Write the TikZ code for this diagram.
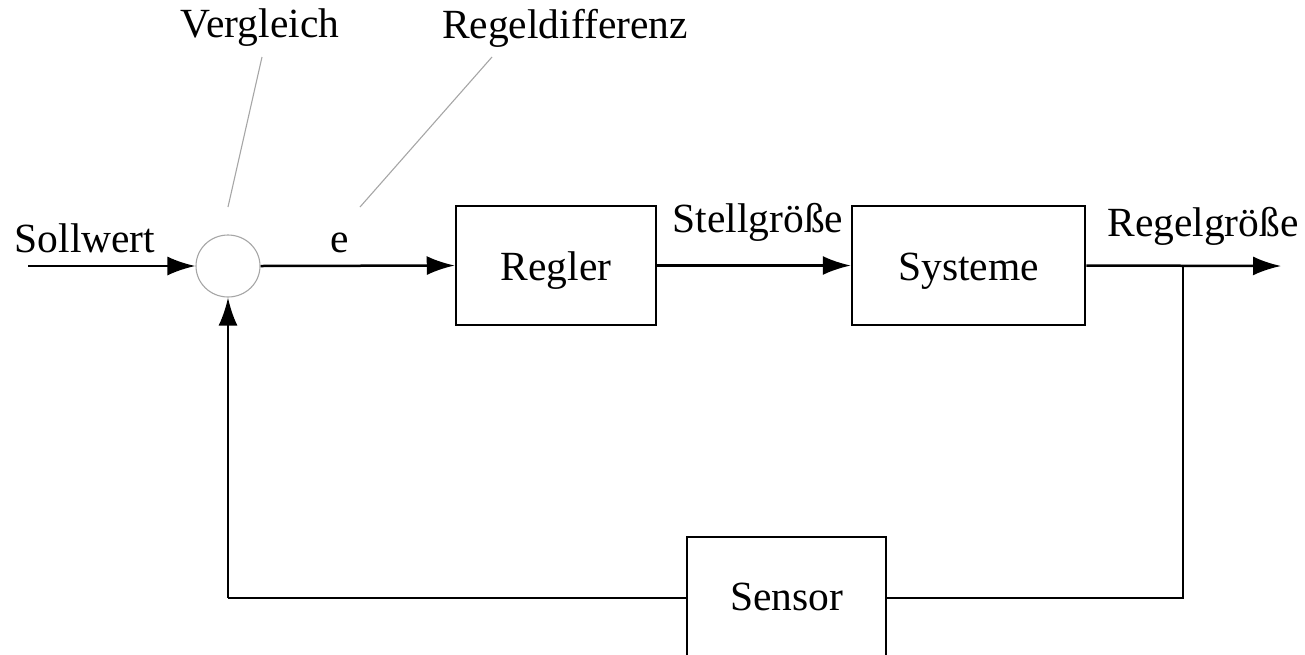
\documentclass[tikz,border=0pt]{standalone}
\usepackage{fontspec}
\setmainfont{Liberation Serif}
\usetikzlibrary{arrows.meta,shapes.geometric}
\begin{document}
\begin{tikzpicture}[x=1pt,y=-1pt,
  lbl/.style={font=\fontsize{41.5}{44}\selectfont,inner sep=0pt},
  blk/.style={draw,line width=2.5pt,minimum width=#1,inner sep=0pt},
  sig/.style={line width=2.5pt,-{Latex[length=28pt,width=19pt]}},
  wire/.style={line width=2.5pt},
  lead/.style={draw=gray!70,line width=1.1pt}]
\clip (0,0) rectangle (1305,654);
\useasboundingbox (0,0) rectangle (1305,654);
\node[draw=gray!70,line width=1.1pt,ellipse,minimum width=64pt,minimum height=62pt,inner sep=0pt] (sum) at (228,266) {};
\node[blk=200pt,minimum height=119pt,label={[lbl,yshift=-5pt]center:Regler}] (reg) at (556,265.5) {};
\node[blk=233pt,minimum height=119pt,label={[lbl,yshift=-6pt]center:Systeme}] (sys) at (968.5,265.5) {};
\node[blk=199pt,minimum height=124pt,label={[lbl,yshift=2pt]center:Sensor}] (sen) at (786.5,599) {};
\coordinate (in) at (28,266);
\coordinate (out) at (1281,266);
\coordinate (br) at (1183,266);
\coordinate (brd) at (1183,598);
\coordinate (fbl) at (228,598);
\node[lbl] (sollw) at (85,238) {Sollwert};
\node[lbl] (e) at (340,243) {e};
\node[lbl] (stell) at (758,222) {Stellgröße};
\node[lbl] (regg) at (1203,226) {Regelgröße};
\node[lbl] (verg) at (260,28) {Vergleich};
\node[lbl] (rdiff) at (565,28) {Regeldifferenz};
\coordinate (vl1) at (262,57);
\coordinate (vl2) at (228,207);
\coordinate (rl1) at (492,57);
\coordinate (rl2) at (360,207);
\draw[lead] (vl1) -- (vl2);
\draw[lead] (rl1) -- (rl2);
\draw[sig] (in) -- (sum.west);
\draw[sig] (sum.east) -- (reg.west);
\draw[sig] (reg.east) -- (sys.west);
\draw[sig] (sys.east) -- (out);
\draw[wire] (br) -- (brd) -- (sen.east |- brd);
\draw[wire] (sen.west |- fbl) -- (fbl);
\draw[sig] (fbl) -- (sum.south);
\end{tikzpicture}
\end{document}
